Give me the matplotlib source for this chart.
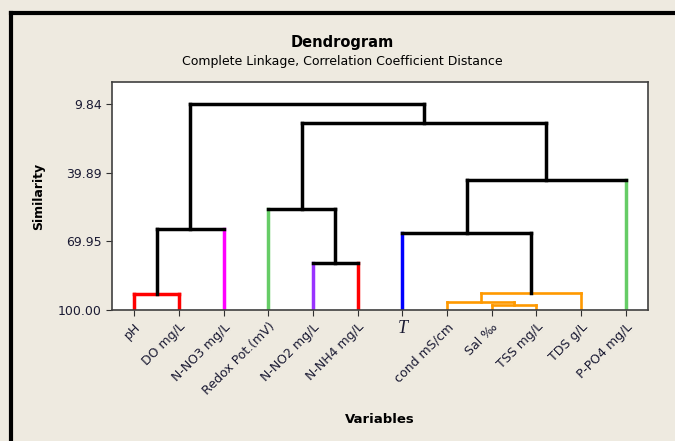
import matplotlib
matplotlib.use("Agg")
import matplotlib.pyplot as plt
from matplotlib.lines import Line2D

# leaves in plotted order
variables = ["pH", "DO mg/L", "N-NO3 mg/L", "Redox Pot.(mV)", "N-NO2 mg/L", "N-NH4 mg/L",
             "T", "cond mS/cm", "Sal \u2030", "TSS mg/L", "TDS g/L", "P-PO4 mg/L"]
leaf_colors = ["#ff0000", "#ff0000", "#ff00ff", "#66cc66", "#9933ff", "#ff0000",
               "#0000ff", "#ff9900", "#ff9900", "#ff9900", "#ff9900", "#66cc66"]

# merges (node ids continue after the 12 leaves, like scipy linkage)
merge_left = [0, 4, 12, 8, 7, 16, 3, 6, 19, 18, 14]
merge_right = [1, 5, 2, 9, 15, 10, 13, 17, 11, 20, 21]
merge_sim = [92.8, 79.4, 64.5, 97.6, 96.5, 92.5, 55.7, 66.2, 43.2, 18.1, 9.84]
merge_color = ["#ff0000", "k", "k", "#ff9900", "#ff9900", "#ff9900", "k", "k", "k", "k", "k"]

sim_ticks = [9.84, 39.89, 69.95, 100.00]

bg = "#eeeae0"
fig = plt.figure(figsize=(6.75, 4.41), dpi=100, facecolor=bg)
ax = fig.add_axes([112 / 675, 1 - 310 / 441, 536 / 675, 228 / 441])
ax.set_facecolor("white")

n = len(variables)
xpos = {i: float(i) for i in range(n)}
ypos = {i: 100.0 for i in range(n)}


def lw_for(c):
    return 1.9 if c == "#ff9900" else 2.5


for k, (a, b, s, c) in enumerate(zip(merge_left, merge_right, merge_sim, merge_color)):
    node = n + k
    for child in (a, b):
        if c != "k":
            leg_c = c
        elif child < n:
            leg_c = leaf_colors[child]
        else:
            leg_c = "k"
        ax.plot([xpos[child], xpos[child]], [ypos[child], s], color=leg_c, lw=lw_for(leg_c),
                solid_capstyle="projecting", zorder=3 if leg_c == "k" else 2)
    ax.plot([xpos[a], xpos[b]], [s, s], color=c, lw=lw_for(c), solid_capstyle="projecting",
            zorder=3 if c == "k" else 2)
    xpos[node] = (xpos[a] + xpos[b]) / 2
    ypos[node] = s

ax.set_xlim(-0.5, n - 0.5)
ax.set_ylim(100, 0)
ax.set_yticks(sim_ticks)
ax.set_yticklabels(["%.2f" % v for v in sim_ticks])
ax.set_xticks(range(n))
ax.set_xticklabels(variables)
ax.tick_params(axis="both", direction="out", length=4, width=0.8, colors="#303030",
               labelsize=9, labelcolor="#1a1a33")
for i, lab in enumerate(ax.get_xticklabels()):
    if variables[i] == "T":
        lab.set_rotation(0)
        lab.set_ha("center")
        lab.set_fontfamily("Liberation Serif")
        lab.set_fontstyle("italic")
        lab.set_fontsize(13)
    else:
        lab.set_rotation(45)
        lab.set_ha("right")
        lab.set_va("top")
        lab.set_rotation_mode("anchor")
for sp in ax.spines.values():
    sp.set_color("#404040")
    sp.set_linewidth(1.2)

ax.set_xlabel("Variables", fontsize=9.5, fontweight="bold", labelpad=0)
ax.xaxis.set_label_coords(0.5, -0.45)
ax.set_ylabel("Similarity", fontsize=9, fontweight="bold")
ax.yaxis.set_label_coords(-0.125, 0.5)

fig.text(342 / 675, 1 - 42 / 441, "Dendrogram", ha="center", va="center",
         fontsize=10.5, fontweight="bold")
fig.text(342 / 675, 1 - 62 / 441, "Complete Linkage, Correlation Coefficient Distance",
         ha="center", va="center", fontsize=9)

# black frame on left and top edges
fig.add_artist(Line2D([11 / 675, 11 / 675], [0, 1 - 13 / 441], color="k", lw=3,
                      transform=fig.transFigure))
fig.add_artist(Line2D([11 / 675, 1], [1 - 13 / 441, 1 - 13 / 441], color="k", lw=3,
                      transform=fig.transFigure))

fig.savefig("out.png", dpi=100, facecolor=bg)
